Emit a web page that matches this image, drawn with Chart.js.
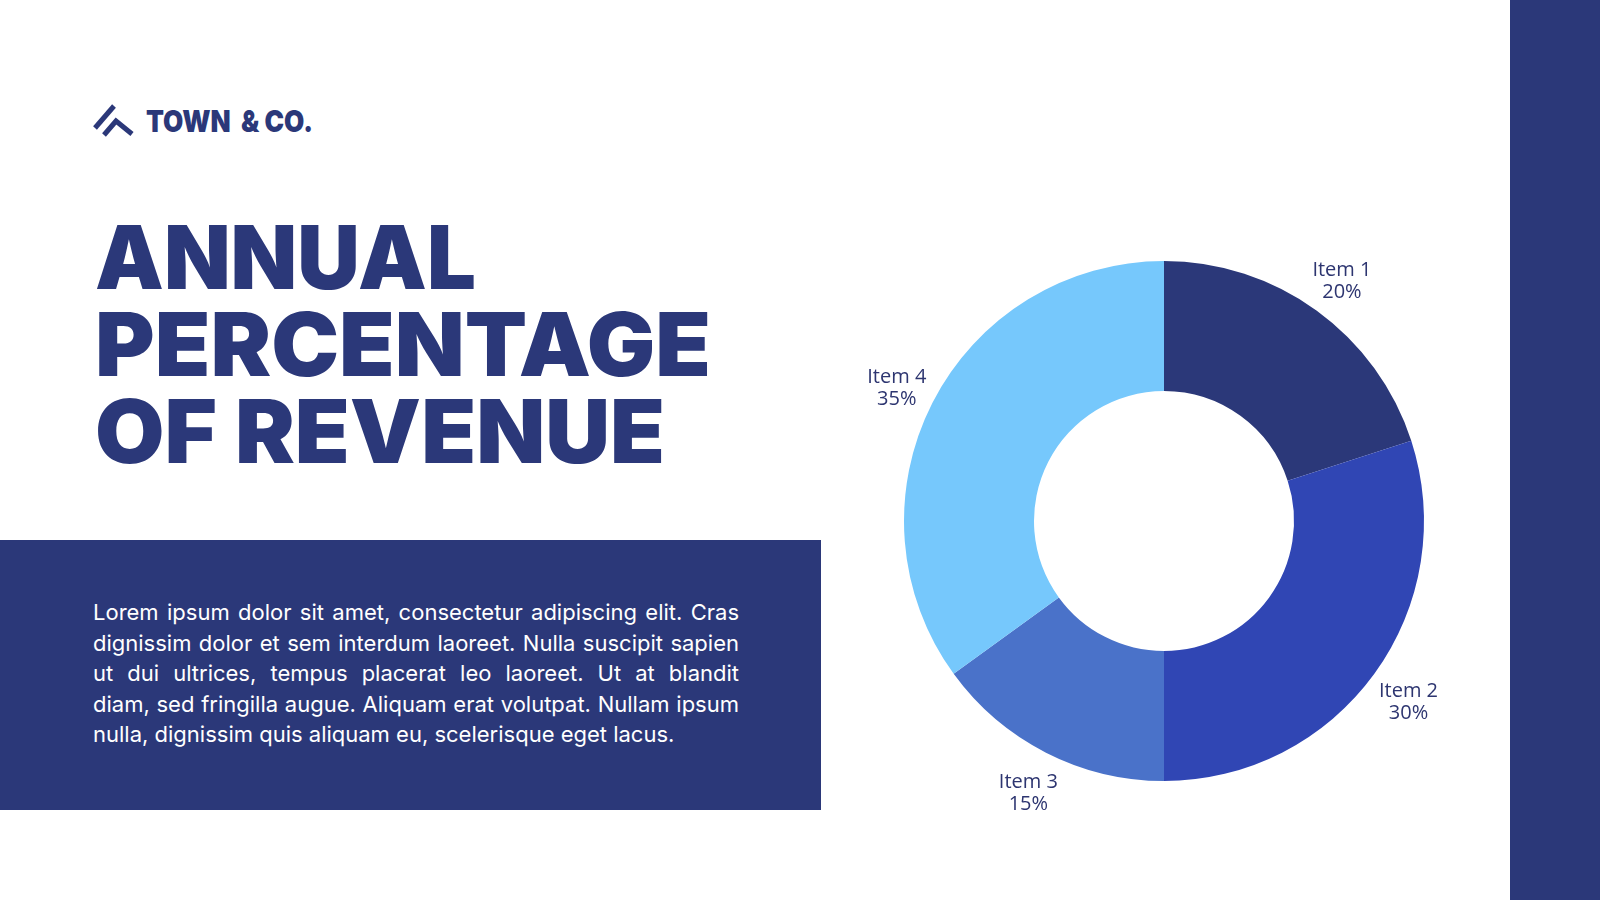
<!DOCTYPE html>
<html>
<head>
<meta charset="utf-8">
<script src="https://cdn.jsdelivr.net/npm/chart.js@4.4.0/dist/chart.umd.min.js"></script>
<style>
  html, body { margin: 0; padding: 0; }
  body { width: 1600px; height: 900px; position: relative; overflow: hidden; background: #fff; font-family: Inter, "Noto Sans", sans-serif; }
  .band { position: absolute; left: 1510px; top: 0; width: 90px; height: 900px; background: #2b3879; }
  .box  { position: absolute; left: 0; top: 540px; width: 821px; height: 270px; background: #2b3879; }
  .logo-text { position: absolute; left: 146px; top: 106px; font: 900 30px/30px Inter, Lato, sans-serif; color: #2b3879; white-space: pre; transform-origin: 0 0; }
  .title { position: absolute; left: 95px; top: 213.5px; font: 900 88px/87px Inter, Lato, sans-serif; color: #2b3879; }
  .title div { white-space: pre; transform-origin: 0 0; width: max-content; }
  .para { position: absolute; left: 93px; top: 597px; width: 646px; font: 400 22px/30.6px Inter, sans-serif; color: #fff; }
  .para div { text-align: justify; text-align-last: justify; }
  .para div:last-child { text-align-last: left; }
  .chart-wrap { position: absolute; left: 864px; top: 221px; width: 600px; height: 600px; }
  svg.icon { position: absolute; left: 0; top: 0; }
</style>
</head>
<body>
<div class="band"></div>
<div class="box"></div>

<svg class="icon" width="200" height="200">
  <g stroke="#2b3879" stroke-width="5" fill="none" stroke-linecap="butt">
    <line x1="95" y1="128" x2="114" y2="106"/>
    <polyline points="104,135 116,121 132,134"/>
  </g>
</svg>
<div class="logo-text" id="logoText" data-w="167">TOWN  &amp; CO.</div>

<div class="title" id="title">
  <div data-w="381">ANNUAL</div>
  <div data-w="616">PERCENTAGE</div>
  <div data-w="570">OF REVENUE</div>
</div>

<div class="para">
  <div>Lorem ipsum dolor sit amet, consectetur adipiscing elit. Cras</div>
  <div>dignissim dolor et sem interdum laoreet. Nulla suscipit sapien</div>
  <div>ut dui ultrices, tempus placerat leo laoreet. Ut at blandit</div>
  <div>diam, sed fringilla augue. Aliquam erat volutpat. Nullam ipsum</div>
  <div>nulla, dignissim quis aliquam eu, scelerisque eget lacus.</div>
</div>

<div class="chart-wrap"><canvas id="pie"></canvas></div>

<script>
// data
const labels  = ["Item 1", "Item 2", "Item 3", "Item 4"];
const values  = [20, 30, 15, 35];
const colors  = ["#2b3879", "#3046b4", "#4a72c9", "#76c8fc"];

// stretch heavy headings to the widths seen in the picture
function fitWidth(el) {
  const target = Number(el.dataset.w);
  const w = el.getBoundingClientRect().width;
  if (w > 0) el.style.transform = `scaleX(${target / w})`;
}
document.querySelectorAll("[data-w]").forEach(fitWidth);

// outside labels: name on top, percent below
const outsideLabels = {
  id: "outsideLabels",
  afterDatasetsDraw(chart) {
    const ctx = chart.ctx;
    const meta = chart.getDatasetMeta(0);
    ctx.save();
    ctx.fillStyle = "#2d3570";
    ctx.font = '400 20px "Open Sans", sans-serif';
    ctx.textAlign = "center";
    ctx.textBaseline = "middle";
    meta.data.forEach((arc, i) => {
      const mid = (arc.startAngle + arc.endAngle) / 2;
      const r = arc.outerRadius + 41;
      const x = arc.x + Math.cos(mid) * r + 1;
      const y = arc.y + Math.sin(mid) * r + 4;
      ctx.fillText(labels[i], x, y - 11);
      ctx.fillText(values[i] + "%", x, y + 11);
    });
    ctx.restore();
  }
};

new Chart(document.getElementById("pie"), {
  type: "doughnut",
  data: {
    labels: labels,
    datasets: [{ data: values, backgroundColor: colors, borderWidth: 0 }]
  },
  options: {
    responsive: true, maintainAspectRatio: false,
    animation: false,
    cutout: "50%",
    layout: { padding: 40 },
    plugins: { legend: { display: false }, tooltip: { enabled: false } }
  },
  plugins: [outsideLabels]
});
</script>
</body>
</html>
